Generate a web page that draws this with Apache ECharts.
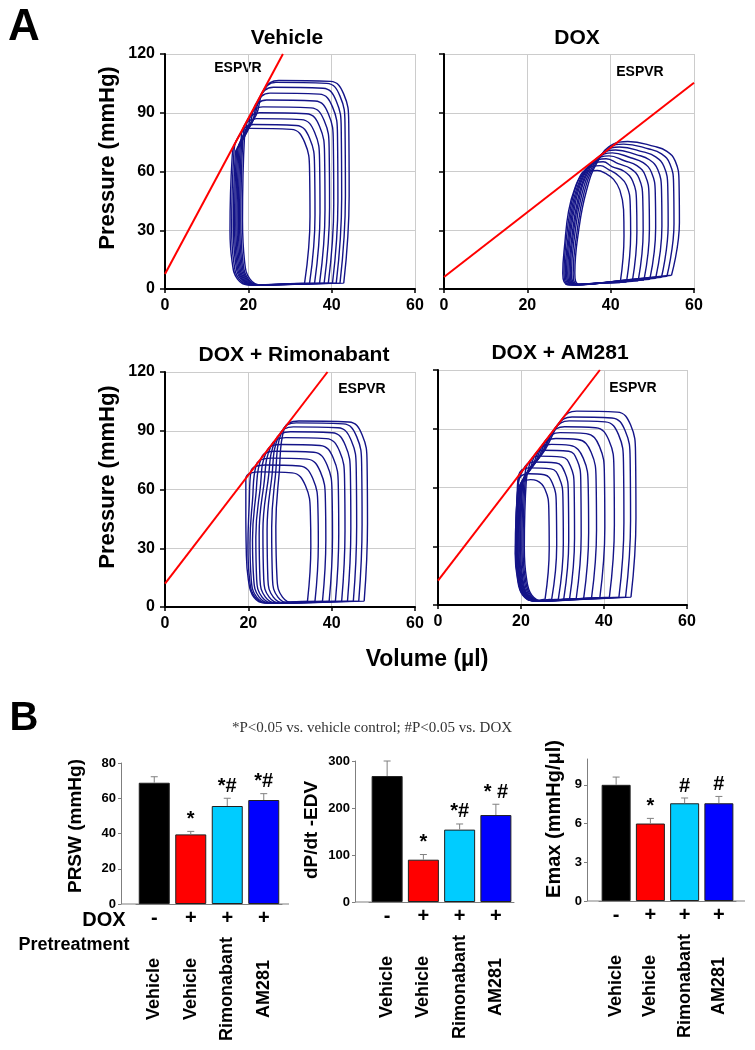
<!DOCTYPE html>
<html><head><meta charset="utf-8">
<script src="https://cdn.jsdelivr.net/npm/echarts/dist/echarts.min.js"></script>
<style>html,body{margin:0;padding:0;background:#fff}#c{width:755px;height:1050px}</style>
</head><body><div id="c"></div>
<script>
// ---------- Panel A data: pressure-volume loops [volume (µl), pressure (mmHg)] ----------
const panelTitles = ['Vehicle', 'DOX', 'DOX + Rimonabant', 'DOX + AM281'];
const volumeRange = [0, 60];
const pressureRange = [0, 120];

const espvrVehicle = [[0, 7.7], [28.3, 120]];
const espvrDox = [[0, 6.1], [60, 105.3]];
const espvrRimo = [[0, 11.9], [39.0, 120]];
const espvrAm281 = [[0, 12.4], [39.0, 120]];

const vehicleLoops = [
 [[42.9,3],[44.2,47.9],[44.1,84.5],[42.9,99.5],[39.7,106],[27.3,106.5],[23.8,102],[21.9,88.8],[19.1,78.5],[18.6,35.3],[19.1,14],[20.4,5],[23.1,2],[33,2.5],[42.9,3]],
 [[42,3],[43.3,47.5],[43.2,83.5],[42,98.5],[38.8,105],[26.6,105.5],[23.1,99.5],[21.3,86.7],[18.7,76.9],[18.2,34.6],[18.7,14],[20,5],[22.7,2],[32.4,2.5],[42,3]],
 [[41.1,3],[42.4,46.4],[42.3,81],[41.1,96],[37.9,102.5],[26,103],[22.5,97],[20.9,84.9],[18.4,75.7],[17.9,34.1],[18.4,14],[19.7,5],[22.4,2],[31.8,2.5],[41.1,3]],
 [[40.2,3],[41.5,45],[41.4,78],[40.2,93],[37,99.5],[25.2,100],[21.7,94],[20.3,82.8],[18.1,74.6],[17.6,33.6],[18.1,14],[19.4,5],[22.1,2],[31.2,2.5],[40.2,3]],
 [[39.2,3],[40.5,43.4],[40.4,74.5],[39.2,89.5],[36,96],[24.4,96.5],[20.9,90.5],[19.8,80.5],[17.8,73.4],[17.3,33],[17.8,14],[19.1,5],[21.8,2],[30.5,2.5],[39.2,3]],
 [[38.2,3],[39.5,41.9],[39.4,71],[38.2,86],[35,92.5],[23.5,93],[20,87],[19.2,78.1],[17.5,72.2],[17,32.5],[17.5,14],[18.8,5],[21.5,2],[29.9,2.5],[38.2,3]],
 [[37.1,3],[38.4,40.5],[38.3,68],[37.1,83],[33.9,89.5],[22.7,90],[19.2,84],[18.6,76],[17.2,71],[16.7,32],[17.2,14],[18.5,5],[21.2,2],[29.2,2.5],[37.1,3]],
 [[35.9,3],[37.2,39.2],[37.1,65],[35.9,80],[32.7,86.5],[22,87],[18.5,81],[18.1,73.9],[16.9,69.8],[16.4,31.4],[16.9,14],[18.2,5],[20.9,2],[28.4,2.5],[35.9,3]],
 [[34.7,3],[36,37.8],[35.9,62],[34.7,77],[31.5,83.5],[21.2,84],[17.7,78],[16.5,68.2],[16,30.7],[16.5,14],[17.8,5],[20.5,2],[27.6,2.5],[34.7,3]],
 [[33.5,3],[34.8,36.9],[34.7,60],[33.5,75],[30.3,81.5],[20.5,82],[16.95,75],[16.1,66.6],[15.6,30],[16.1,14],[17.4,5],[20.1,2],[26.8,2.5],[33.5,3]]
];

const doxLoops = [
 [[54.6,7],[56.5,33.9],[56.4,55.3],[55.5,65.3],[53.5,70.3],[50.5,72.8],[44.1,75.3],[40.6,74],[36.9,65.1],[34.2,50.3],[32.3,29.6],[31.4,8],[32.6,2.2],[43.6,4.6],[54.6,7]],
 [[53.5,6.5],[55.2,33.3],[55.1,54],[54.2,64],[52.2,69],[49.2,71.5],[43.1,74],[39.6,72],[36.2,63.4],[33.6,49],[31.9,28.8],[31.0,8],[32.2,2.2],[42.9,4.4],[53.5,6.5]],
 [[52.2,6],[53.8,32.6],[53.7,52.5],[52.8,62.5],[50.8,67.5],[47.8,70],[42.1,72.5],[38.6,70],[35.4,61.6],[33.0,47.6],[31.4,28],[30.6,8],[31.8,2.2],[42,4.1],[52.2,6]],
 [[50.8,5.5],[52.3,32],[52.2,51],[51.3,61],[49.3,66],[46.3,68.5],[41.2,71],[37.7,68.5],[34.7,60.3],[32.5,46.6],[31.0,27.4],[30.3,8],[31.5,2.2],[41.2,3.9],[50.8,5.5]],
 [[49.4,5],[50.8,31.3],[50.7,49.5],[49.8,59.5],[47.8,64.5],[44.8,67],[40.4,69.5],[36.9,67],[34.1,59],[32.1,45.6],[30.7,26.8],[30,8],[31.2,2.2],[40.3,3.6],[49.4,5]],
 [[48,4.6],[49.3,30.6],[49.2,48],[48.3,58],[46.3,63],[43.3,65.5],[39.6,68],[36.1,65.5],[33.5,57.6],[31.6,44.5],[30.3,26.2],[29.7,8],[30.9,2.2],[39.5,3.4],[48,4.6]],
 [[46.6,4.2],[47.8,29.9],[47.7,46.5],[46.8,56.5],[44.8,61.5],[41.8,64],[38.9,66.5],[35.4,64],[33.0,56.3],[31.2,43.5],[30.0,25.6],[29.4,8],[30.6,2.2],[38.6,3.2],[46.6,4.2]],
 [[45.2,3.9],[46.3,29.3],[46.2,45],[45.3,55],[43.3,60],[40.3,62.5],[38.2,65],[34.7,62.5],[32.5,55],[30.8,42.5],[29.7,25],[29.1,8],[30.3,2.2],[37.8,3],[45.2,3.9]],
 [[43.8,3.6],[44.8,28.4],[44.7,43],[43.8,53],[41.8,58],[39.5,61],[37.5,63],[34,61],[31.9,53.7],[30.4,41.5],[29.3,24.4],[28.8,8],[30,2.2],[36.9,2.9],[43.8,3.6]],
 [[42.3,3.3],[43.2,27.2],[43.1,40.5],[42.2,50.5],[40.7,56],[38.8,59],[36.8,60.5],[33.3,58.5],[31.4,51.5],[29.9,39.8],[29.0,23.4],[28.5,8],[29.7,2.2],[36,2.8],[42.3,3.3]]
];

const rimoLoops = [
 [[47.8,3],[48.6,42.8],[48.5,73],[47.3,88],[44.1,94.5],[32.1,95],[28.6,91],[27.4,68.3],[26.6,41],[26.9,14],[28.2,5],[30.9,2],[39.4,2.5],[47.8,3]],
 [[46.5,3],[47.3,42.3],[47.2,72],[46,87],[42.8,93.5],[31.5,94],[28,89.5],[26.5,67.1],[25.6,40.3],[25.8,14],[27.1,5],[29.8,2],[38.2,2.5],[46.5,3]],
 [[45.2,3],[46,41.4],[45.9,70],[44.7,85],[41.5,91.5],[30.8,92],[27.3,87.5],[25.6,65.6],[24.5,39.4],[24.7,14],[26,5],[28.7,2],[37,2.5],[45.2,3]],
 [[43.8,3],[44.6,40.3],[44.5,67.5],[43.3,82.5],[40.1,89],[30.1,89.5],[26.6,85.5],[24.7,64.1],[23.5,38.5],[23.7,14],[25,5],[27.7,2],[35.8,2.5],[43.8,3]],
 [[42.4,3],[43.2,38.9],[43.1,64.5],[41.9,79.5],[38.7,86],[29,86.5],[25.5,82.5],[23.7,61.9],[22.6,37.1],[22.8,14],[24.1,5],[26.8,2],[34.6,2.5],[42.4,3]],
 [[40.9,3],[41.7,37.4],[41.6,61],[40.4,76],[37.2,82.5],[27.9,83],[24.4,79.5],[22.8,59.6],[21.8,35.8],[22,14],[23.3,5],[26,2],[33.5,2.5],[40.9,3]],
 [[39.4,3],[40.2,35.8],[40.1,57.5],[38.9,72.5],[35.7,79],[26.6,79.5],[23.1,76],[21.8,57],[21,34.2],[21.3,14],[22.6,5],[25.3,2],[32.4,2.5],[39.4,3]],
 [[37.8,3],[38.6,34.2],[38.5,54],[37.3,69],[34.1,75.5],[25.4,76],[21.9,72.5],[21,54.4],[20.4,32.6],[20.7,14],[22,5],[24.7,2],[31.3,2.5],[37.8,3]],
 [[36,3],[36.8,32.6],[36.7,50.5],[35.5,65.5],[32.3,72],[24.1,72.5],[20.6,69],[20.2,51.8],[19.9,31.1],[20.3,14],[21.6,5],[24.3,2],[30.2,2.5],[36,3]],
 [[34.2,3],[35,31],[34.9,47],[33.7,62],[30.5,68.5],[22.9,69],[19.4,65.5],[19.4,49.1],[19.5,29.5],[20,14],[21.3,5],[24,2],[29.1,2.5],[34.2,3]]
];

const am281Loops = [
 [[46.5,4],[47.7,44.6],[47.6,77],[46.4,92],[43.2,98.5],[33.4,99],[29.9,95],[25.9,79.6],[21.3,64.2],[20.8,28.9],[21.3,14],[22.6,5],[25.3,2],[35.9,3],[46.5,4]],
 [[45.2,4],[46.4,43.2],[46.3,74],[45.1,89],[41.9,95.5],[32.3,96],[28.8,92],[25.2,77.7],[21,63.4],[20.5,28.5],[21,14],[22.3,5],[25,2],[35.1,3],[45.2,4]],
 [[43.6,4],[44.8,42.3],[44.7,72],[43.5,87],[40.3,93.5],[31.6,94],[28.1,90],[24.7,76.3],[20.7,62.5],[20.2,28.1],[20.7,14],[22,5],[24.7,2],[34.2,3],[43.6,4]],
 [[41.3,4],[42.5,41],[42.4,69],[41.2,84],[38,90.5],[30.5,91],[27,87],[24,74.4],[20.4,61.7],[19.9,27.8],[20.4,14],[21.7,5],[24.4,2],[32.9,3],[41.3,4]],
 [[39,3.8],[40.2,39.6],[40.1,66],[38.9,81],[35.7,87.5],[29.4,88],[25.9,84],[23.35,72.6],[20.2,61.2],[19.7,27.5],[20.2,14],[21.5,5],[24.2,2],[31.6,2.9],[39,3.8]],
 [[37,3.6],[38.2,38.3],[38.1,63],[36.9,78],[33.7,84.5],[28.4,85],[24.9,81],[22.75,70.8],[20,60.6],[19.5,27.3],[20,14],[21.3,5],[24,2],[30.5,2.8],[37,3.6]],
 [[35.1,3.4],[36.3,36.9],[36.2,60],[35,75],[31.8,81.5],[27.3,82],[23.8,78],[22.1,69],[19.8,60],[19.3,27],[19.8,14],[21.1,5],[23.8,2],[29.5,2.7],[35.1,3.4]],
 [[33.3,3.2],[34.5,35.6],[34.4,64],[33.5,74],[31.5,78.5],[25.2,79],[22.7,75],[21.45,67.25],[19.6,59.5],[19.1,26.8],[19.6,14],[20.9,5],[23.6,2],[28.5,2.6],[33.3,3.2]],
 [[31.7,3],[32.9,34.2],[32.8,61],[31.9,71],[29.9,75.5],[24.1,76],[21.6,72],[20.8,65.5],[19.4,58.9],[18.9,26.5],[19.4,14],[20.7,5],[23.4,2],[27.6,2.5],[31.7,3]],
 [[30.3,3],[31.5,32.9],[31.4,58],[30.5,68],[28.5,72.5],[23,73],[20.5,69],[19.2,58.4],[18.7,26.3],[19.2,14],[20.5,5],[23.2,2],[26.8,2.5],[30.3,3]],
 [[29,3],[30.2,31.5],[30.1,55],[29.2,65],[27.2,69.5],[21.9,70],[19.4,66],[19.1,58.1],[18.6,26.1],[19.1,14],[20.4,5],[23.1,2],[26,2.5],[29,3]],
 [[27.4,3],[28.6,30.2],[28.5,52],[27.6,62],[25.6,66.5],[21.9,67],[19.4,63],[18.8,30],[19.3,14],[20.6,5],[23.3,2],[25.4,2.5],[27.4,3]],
 [[25.8,3],[26.8,28.8],[26.7,49],[25.8,59],[23.8,63.5],[22.3,64],[19.8,60],[19.2,28.8],[19.7,14],[21,5],[23.2,2],[24.5,2.5],[25.8,3]]
];

// ---------- Panel B data ----------
const groups = ['Vehicle / -', 'Vehicle / +', 'Rimonabant / +', 'AM281 / +'];
const doxSigns = ['-', '+', '+', '+'];
const pretreatment = ['Vehicle', 'Vehicle', 'Rimonabant', 'AM281'];

const prswMean = [68.8, 39.5, 55.6, 59.0];
const prswErr = [3.4, 1.7, 4.4, 3.6];
const prswSig = ['', '*', '*#', '*#'];

const dpdtMean = [268, 90, 154, 185];
const dpdtErr = [32, 11, 12, 23];
const dpdtSig = ['', '*', '*#', '* #'];

const emaxMean = [9.0, 6.0, 7.57, 7.57];
const emaxErr = [0.6, 0.4, 0.41, 0.53];
const emaxSig = ['', '*', '#', '#'];

const emaxTicks = [0, 3, 6, 9];

// ---------- styling / layout ----------
const SANS = '"Liberation Sans", Arial, sans-serif';
const SERIF = '"Liberation Serif", "Times New Roman", serif';
const LOOP_COLOR = '#141488';
const BAR_COLORS = ['#000000', '#ff0000', '#00ccff', '#0000ff'];

const gridA = [
  {left: 165, top: 54, width: 250, height: 235},
  {left: 444, top: 54, width: 250, height: 235},
  {left: 165, top: 372, width: 250, height: 235},
  {left: 438, top: 370, width: 249, height: 235}
];
const gridB = [
  {left: 136, top: 763, width: 146, height: 141},
  {left: 369, top: 761, width: 145, height: 141},
  {left: 599, top: 759, width: 137, height: 142}
];
const bCfg = [
  {min: 0, max: 80, interval: 20, offset: 15, barWidth: 31, sym: ['rect', 'rect'], symSize: [1, 30], symOff: [0, -8], mean: prswMean, err: prswErr, sig: prswSig},
  {min: 0, max: 300, interval: 100, offset: 14, barWidth: 31, sym: ['rect', 'none'], symSize: [1, 28], symOff: [0, 0], mean: dpdtMean, err: dpdtErr, sig: dpdtSig},
  {min: 0, max: 11, interval: 3, offset: 12, barWidth: 29, sym: ['rect', 'rect'], symSize: [1, 24], symOff: [0, -3], mean: emaxMean, err: emaxErr, sig: emaxSig, custom: emaxTicks}
];

const xAxis = [], yAxis = [], series = [];

gridA.forEach((g, i) => {
  xAxis.push({
    type: 'value', gridIndex: i, min: volumeRange[0], max: volumeRange[1], interval: 20,
    axisLine: {show: true, onZero: false, lineStyle: {color: '#000', width: 2}},
    axisTick: {show: true, length: 4, lineStyle: {color: '#000', width: 1.5}},
    axisLabel: {show: true, margin: 9, color: '#000', fontFamily: SANS, fontWeight: 'bold', fontSize: 16},
    splitLine: {show: true, lineStyle: {color: '#cccccc', width: 1}}
  });
  yAxis.push({
    type: 'value', gridIndex: i, min: pressureRange[0], max: pressureRange[1], interval: 30,
    axisLine: {show: true, onZero: false, lineStyle: {color: '#000', width: 2}},
    axisTick: {show: true, length: 5, lineStyle: {color: '#000', width: 1.5}},
    axisLabel: {show: i % 2 === 0, margin: 10, color: '#000', fontFamily: SANS, fontWeight: 'bold', fontSize: 16},
    splitLine: {show: true, lineStyle: {color: '#cccccc', width: 1}}
  });
});

bCfg.forEach((c, k) => {
  const gi = 4 + k;
  xAxis.push({
    type: 'category', gridIndex: gi, data: groups, position: 'bottom',
    axisLine: {show: true, onZero: false, lineStyle: {color: '#7f7f7f', width: 1}, symbol: c.sym, symbolSize: c.symSize, symbolOffset: c.symOff},
    axisTick: {show: false},
    axisLabel: {interval: 0, margin: 4, formatter: (v, idx) => doxSigns[idx], color: '#000', fontFamily: SANS, fontWeight: 'bold', fontSize: 20},
    splitLine: {show: false}
  });
  xAxis.push({
    type: 'category', gridIndex: gi, data: groups, position: 'bottom',
    axisLine: {show: false}, axisTick: {show: false}, splitLine: {show: false},
    axisLabel: {interval: 0, rotate: 90, align: 'center', verticalAlign: 'middle', margin: 85,
      formatter: (v, idx) => pretreatment[idx], color: '#000', fontFamily: SANS, fontWeight: 'bold', fontSize: 18}
  });
  const ya = {
    type: 'value', gridIndex: gi, min: c.min, max: c.max, interval: c.interval, offset: c.offset,
    axisLine: {show: true, lineStyle: {color: '#7f7f7f', width: 1}},
    axisTick: {show: true, length: 3, lineStyle: {color: '#7f7f7f'}},
    axisLabel: {show: true, margin: 5, color: '#000', fontFamily: SANS, fontWeight: 'bold', fontSize: 13},
    splitLine: {show: false}
  };
  if (c.custom) {
    ya.axisLabel.customValues = c.custom;
    ya.axisTick.customValues = c.custom;
  }
  yAxis.push(ya);
});

// Panel A series
const loopSets = [vehicleLoops, doxLoops, rimoLoops, am281Loops];
const espvrSets = [espvrVehicle, espvrDox, espvrRimo, espvrAm281];
loopSets.forEach((loops, p) => {
  loops.forEach((loop, j) => {
    series.push({
      type: 'line', name: panelTitles[p] + ' loop ' + (j + 1), xAxisIndex: p, yAxisIndex: p,
      data: loop, smooth: 0.45, symbol: 'none', showSymbol: false, silent: true, z: 2,
      lineStyle: {color: LOOP_COLOR, width: 1.4}
    });
  });
  series.push({
    type: 'line', name: panelTitles[p] + ' ESPVR', xAxisIndex: p, yAxisIndex: p,
    data: espvrSets[p], symbol: 'none', showSymbol: false, silent: true, z: 3,
    lineStyle: {color: '#ff0000', width: 2}
  });
});

// Panel B series
bCfg.forEach((c, k) => {
  const xi = 4 + 2 * k, yi = 4 + k;
  series.push({
    type: 'bar', xAxisIndex: xi, yAxisIndex: yi, barWidth: c.barWidth, silent: true,
    data: c.mean.map((m, i) => ({value: m, itemStyle: {color: BAR_COLORS[i], borderColor: '#202020', borderWidth: 1}}))
  });
  series.push({
    type: 'custom', xAxisIndex: xi, yAxisIndex: yi, z: 5, silent: true,
    data: c.mean.map((m, i) => [i, m, c.err[i]]),
    encode: {x: 0, y: 1},
    renderItem: (params, api) => {
      const i = api.value(0), m = api.value(1), e = api.value(2);
      const p0 = api.coord([i, m]);
      const p1 = api.coord([i, m + e]);
      const cap = 3.5;
      return {type: 'group', children: [
        {type: 'line', shape: {x1: p0[0], y1: p0[1], x2: p1[0], y2: p1[1]}, style: {stroke: '#808080', lineWidth: 1}},
        {type: 'line', shape: {x1: p1[0] - cap, y1: p1[1], x2: p1[0] + cap, y2: p1[1]}, style: {stroke: '#808080', lineWidth: 1}},
        {type: 'text', x: p1[0], y: p1[1] - 2, style: {text: c.sig[params.dataIndex], fill: '#000',
          font: 'bold 20px ' + SANS, align: 'center', verticalAlign: 'bottom'}}
      ]};
    }
  });
});

// Free text (titles, labels)
function txt(text, x, y, size, rot) {
  return {
    type: 'text', x: x, y: y, rotation: rot || 0, silent: true,
    style: {text: text, fill: '#000', font: 'bold ' + size + 'px ' + SANS, align: 'center', verticalAlign: 'middle'}
  };
}
const R = Math.PI / 2;
const graphic = [
  txt('A', 24, 28, 44), txt('B', 24, 719, 40),
  txt(panelTitles[0], 287, 38, 21), txt(panelTitles[1], 577, 38, 21),
  txt(panelTitles[2], 294, 355, 21), txt(panelTitles[3], 560, 353, 21),
  txt('ESPVR', 238, 68, 14), txt('ESPVR', 640, 72, 14), txt('ESPVR', 362, 389, 14), txt('ESPVR', 633, 388, 14),
  txt('Pressure (mmHg)', 108, 158, 22, R), txt('Pressure (mmHg)', 108, 477, 22, R),
  txt('Volume (\u00b5l)', 427, 660, 23),
  txt('PRSW (mmHg)', 76, 826, 19, R), txt('dP/dt -EDV', 312, 830, 19, R), txt('Emax (mmHg/\u03bcl)', 554, 819, 20, R),
  txt('DOX', 104, 920, 20), txt('Pretreatment', 74, 945, 18),
  {type: 'text', x: 372, y: 728, silent: true,
   style: {text: '*P<0.05 vs. vehicle control; #P<0.05 vs. DOX', fill: '#333', font: '15px ' + SERIF, align: 'center', verticalAlign: 'middle'}}
];

const chart = echarts.init(document.getElementById('c'), null, {renderer: 'canvas'});
chart.setOption({
  animation: false,
  backgroundColor: '#ffffff',
  textStyle: {fontFamily: SANS},
  grid: gridA.concat(gridB).map(g => Object.assign({containLabel: false}, g)),
  xAxis: xAxis,
  yAxis: yAxis,
  series: series,
  graphic: graphic
});
</script>
</body></html>
